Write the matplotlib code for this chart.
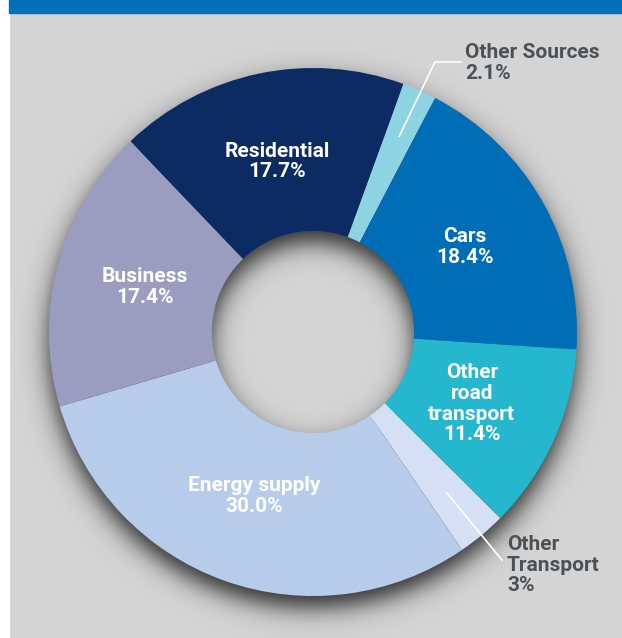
import numpy as np
import matplotlib
matplotlib.use("Agg")
import matplotlib.pyplot as plt
from matplotlib.patches import Rectangle

# Данные диаграммы (по часовой стрелке, начиная с Other Sources)
labels = ["Other Sources", "Cars", "Other\nroad\ntransport", "Other\nTransport",
          "Energy supply", "Business", "Residential"]
shares = [2.1, 18.4, 11.4, 3.0, 30.0, 17.4, 17.7]
share_text = ["2.1%", "18.4%", "11.4%", "3%", "30.0%", "17.4%", "17.7%"]
colors = ["#8dd3e1", "#006db7", "#25b7ce", "#d5e0f5", "#b7cceb", "#9a9dc0", "#0c2b63"]
outside = [True, False, False, True, False, False, False]

W, H = 622, 638
cx, cy, R = 313, 332, 264      # центр и радиус кольца в пикселях
hole = 0.383

fig = plt.figure(figsize=(W / 100, H / 100), dpi=100)
fig.patch.set_facecolor("#d4d4d4")
ax = fig.add_axes([0, 0, 1, 1])

# белая полоса слева и синяя плашка сверху
fig.patches.append(Rectangle((0, 0), 9 / W, 1, transform=fig.transFigure,
                             color="white", zorder=0))
fig.patches.append(Rectangle((9 / W, 1 - 13 / H), 1, 13 / H, transform=fig.transFigure,
                             color="#0070bb", zorder=0))

wedges, _ = ax.pie(shares, colors=colors, startangle=70, counterclock=False,
                   radius=1, wedgeprops=dict(width=1 - hole, linewidth=0))
for w in wedges:
    w.set_zorder(2)

xlim = (-cx / R, (W - cx) / R)
ylim = (-(H - cy) / R, cy / R)

# тень под кольцом
xs = np.linspace(xlim[0], xlim[1], 600)
ys = np.linspace(ylim[0], ylim[1], 600)
X, Y = np.meshgrid(xs, ys)
d = np.hypot(X, Y + 0.045)
s = 0.028
a = 0.8 / (1 + np.exp(-(1 - d) / s)) / (1 + np.exp(-(d - hole) / s))
img = np.zeros(X.shape + (4,))
img[..., 3] = a
ax.imshow(img, extent=(xs[0], xs[-1], ys[0], ys[-1]), origin="lower",
          zorder=1, interpolation="bilinear", aspect="auto")

ax.set_xlim(*xlim)
ax.set_ylim(*ylim)
ax.set_aspect("auto")
ax.axis("off")

font = ["Roboto", "DejaVu Sans"]
for w, lab, pct, out in zip(wedges, labels, share_text, outside):
    mid = np.deg2rad((w.theta1 + w.theta2) / 2)
    if not out:
        ax.text(0.66 * np.cos(mid), 0.66 * np.sin(mid), lab + "\n" + pct,
                ha="center", va="center", color="white", fontsize=15,
                fontweight="bold", family=font, linespacing=1.12, zorder=3)

# выноски
p0 = wedges[0]
m0 = np.deg2rad((p0.theta1 + p0.theta2) / 2)
ax.plot([0.81 * np.cos(m0), 0.462, 0.561], [0.81 * np.sin(m0), 1.023, 1.023],
        color="white", lw=1.2, zorder=3)
ax.text(0.576, 1.019, labels[0] + "\n" + share_text[0], ha="left", va="center",
        color="#4b5155", fontsize=15, fontweight="bold", family=font,
        linespacing=1.12, zorder=3)

p3 = wedges[3]
m3 = np.deg2rad((p3.theta1 + p3.theta2) / 2)
ax.plot([0.79 * np.cos(m3), 0.716], [0.79 * np.sin(m3), -0.864],
        color="white", lw=1.2, zorder=3)
ax.text(0.735, -0.883, labels[3] + "\n" + share_text[3], ha="left", va="center",
        color="#4b5155", fontsize=15, fontweight="bold", family=font,
        linespacing=1.12, zorder=3)

fig.savefig("out.png", dpi=100, facecolor=fig.get_facecolor())
